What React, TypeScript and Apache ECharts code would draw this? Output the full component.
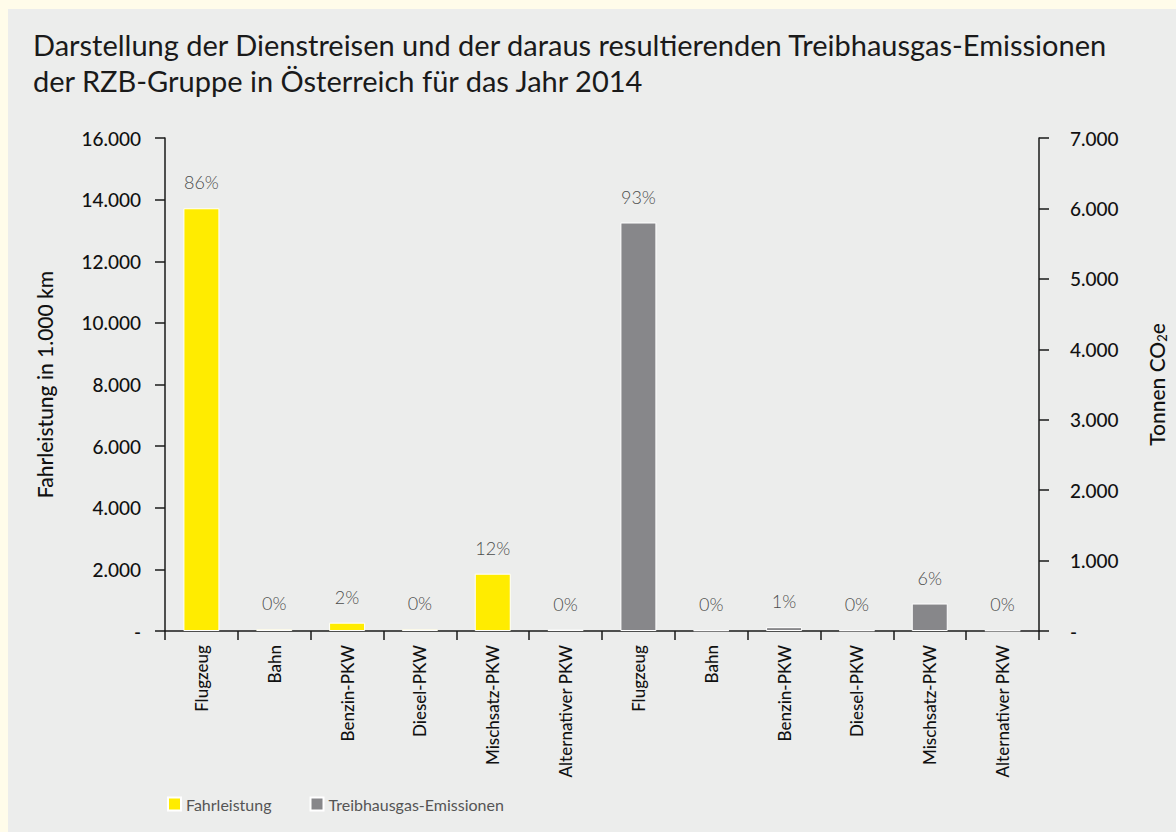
import React, { useEffect, useRef } from "react";
import * as echarts from "echarts";

const categories = [
  "Flugzeug", "Bahn", "Benzin-PKW", "Diesel-PKW", "Mischsatz-PKW", "Alternativer PKW",
  "Flugzeug", "Bahn", "Benzin-PKW", "Diesel-PKW", "Mischsatz-PKW", "Alternativer PKW",
];
const fahrleistung = [13720, 55, 270, 55, 1860, 45];
const emissionen = [5800, 10, 55, 10, 390, 8];
const fahrPct = ["86%", "0%", "2%", "0%", "12%", "0%"];
const emPct = ["93%", "0%", "1%", "0%", "6%", "0%"];
const seriesNames = ["Fahrleistung", "Treibhausgas-Emissionen"];
const leftTicks = { min: 0, max: 16000, interval: 2000 };
const rightTicks = { min: 0, max: 7000, interval: 1000 };

const FONT = "Lato";
const YELLOW = "#FFEC00";
const GRAY = "#87878A";

const fmt = (v: number) =>
  v === 0 ? "-" : String(v).replace(/\B(?=(\d{3})+(?!\d))/g, ".");

export default function App() {
  const ref = useRef<HTMLDivElement>(null);
  useEffect(() => {
    document.body.style.margin = "0";
    const chart = echarts.init(ref.current!, null, { renderer: "svg" });
    const empty = fahrleistung.map(() => null);
    const yellowData = [...fahrleistung, ...empty];
    const grayData = [...empty, ...emissionen];
    const pctLabel = {
      show: true,
      position: "top",
      distance: 17,
      fontFamily: FONT,
      fontSize: 18,
      fontWeight: 300,
      color: "#4d4d4d",
    };
    chart.setOption({
      animation: false,
      backgroundColor: "#ECEDEC",
      textStyle: { fontFamily: FONT },
      title: {
        text: "Darstellung der Dienstreisen und der daraus resultierenden Treibhausgas-Emissionen\nder RZB-Gruppe in Österreich für das Jahr 2014",
        left: 25,
        top: 17,
        padding: 0,
        textStyle: { fontFamily: FONT, fontSize: 29, fontWeight: "normal", color: "#1a1a1a", lineHeight: 36 },
      },
      legend: {
        left: 159,
        top: 787,
        padding: 0,
        itemWidth: 13,
        itemHeight: 13,
        itemGap: 38,
        icon: "rect",
        textStyle: { fontFamily: FONT, fontSize: 16, color: "#555" },
        data: seriesNames,
      },
      grid: { left: 157, right: 134, top: 129, bottom: 201, containLabel: false },
      xAxis: {
        type: "category",
        data: categories,
        axisLine: { lineStyle: { color: "#1a1a1a", width: 1.5 } },
        axisTick: { show: true, length: 9, lineStyle: { color: "#1a1a1a", width: 1.5 } },
        axisLabel: { rotate: 90, margin: 14, fontFamily: FONT, fontSize: 17, fontWeight: 500, color: "#111", interval: 0 },
      },
      yAxis: [
        {
          type: "value",
          ...leftTicks,
          name: "Fahrleistung in 1.000 km",
          nameLocation: "middle",
          nameRotate: 90,
          nameGap: 110,
          nameTextStyle: { fontFamily: FONT, fontSize: 21, fontWeight: 500, color: "#111" },
          axisLine: { show: true, lineStyle: { color: "#1a1a1a", width: 1.5 } },
          axisTick: { show: true, length: 10, lineStyle: { color: "#1a1a1a", width: 1.5 } },
          axisLabel: { margin: 24, fontFamily: FONT, fontSize: 19, fontWeight: 500, color: "#111", formatter: fmt },
          splitLine: { show: false },
        },
        {
          type: "value",
          ...rightTicks,
          position: "right",
          name: "Tonnen CO{sub|2}e",
          nameLocation: "middle",
          nameRotate: 90,
          nameGap: 106,
          nameTextStyle: {
            fontFamily: FONT, fontSize: 21, fontWeight: 500, color: "#111",
            rich: { sub: { fontFamily: FONT, fontSize: 13, fontWeight: 500, color: "#111", verticalAlign: "bottom", padding: [10, 0, 0, 0] } },
          },
          axisLine: { show: true, lineStyle: { color: "#1a1a1a", width: 1.5 } },
          axisTick: { show: true, length: 10, lineStyle: { color: "#1a1a1a", width: 1.5 } },
          axisLabel: { margin: 31, fontFamily: FONT, fontSize: 19, fontWeight: 500, color: "#111", formatter: fmt },
          splitLine: { show: false },
        },
      ],
      series: [
        {
          name: seriesNames[0],
          type: "bar",
          yAxisIndex: 0,
          data: yellowData,
          barWidth: 36,
          barGap: "-100%",
          itemStyle: { color: YELLOW, borderColor: "#fff", borderWidth: 1 },
          label: { ...pctLabel, formatter: (p: any) => fahrPct[p.dataIndex] ?? "" },
        },
        {
          name: seriesNames[1],
          type: "bar",
          yAxisIndex: 1,
          data: grayData,
          barWidth: 36,
          itemStyle: { color: GRAY, borderColor: "#fff", borderWidth: 1 },
          label: { ...pctLabel, formatter: (p: any) => emPct[p.dataIndex - 6] ?? "" },
        },
      ],
    });
    return () => chart.dispose();
  }, []);
  return (
    <div style={{ width: 1176, height: 832, background: "#FFFCEA", position: "relative", overflow: "hidden" }}>
      <div ref={ref} style={{ position: "absolute", left: 8, top: 9, width: 1168, height: 823 }} />
    </div>
  );
}
